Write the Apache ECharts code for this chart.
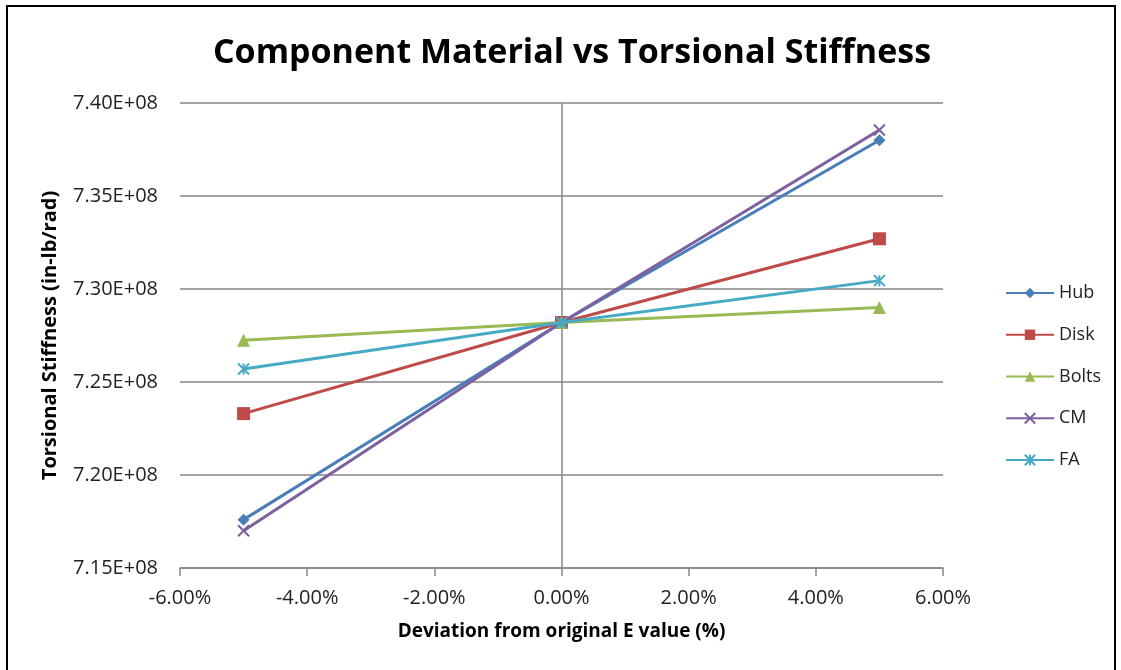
<!DOCTYPE html>
<html>
<head>
<meta charset="utf-8">
<script src="https://cdn.jsdelivr.net/npm/echarts@6/dist/echarts.min.js"></script>
<style>
html,body{margin:0;padding:0;background:#fff;}
#chart{width:1121px;height:670px;}
</style>
</head>
<body>
<div id="chart"></div>
<script>
// Data
var deviations = [-0.05, 0, 0.05];
var seriesNames = ['Hub', 'Disk', 'Bolts', 'CM', 'FA'];
var hub   = [7.176e8, 7.282e8, 7.380e8];
var disk  = [7.233e8, 7.282e8, 7.327e8];
var bolts = [7.2725e8, 7.282e8, 7.290e8];
var cm    = [7.170e8, 7.282e8, 7.3855e8];
var fa    = [7.257e8, 7.282e8, 7.3045e8];
var yTicks = [7.15e8, 7.20e8, 7.25e8, 7.30e8, 7.35e8, 7.40e8];
var xTicks = [-0.06, -0.04, -0.02, 0, 0.02, 0.04, 0.06];

var colors = ['#4A7EBB', '#BE4B48', '#98B954', '#7D60A0', '#46AAC5'];
var symbols = [
  'diamond',
  'rect',
  'triangle',
  'path://M0,0L10,10M10,0L0,10',
  'path://M5,0L5,10M0,0L10,10M10,0L0,10'
];
var symbolSizes = [12, 13, 13, 11, 11];
var values = [hub, disk, bolts, cm, fa];

function pair(vals) {
  return deviations.map(function (d, i) { return [d, vals[i]]; });
}

var series = seriesNames.map(function (name, i) {
  var stroke = i >= 3;
  var s = {
    name: name,
    type: 'line',
    data: pair(values[i]),
    symbol: symbols[i],
    symbolSize: symbolSizes[i],
    showAllSymbol: true,
    z: 5 + i,
    lineStyle: { color: colors[i], width: 3 },
    itemStyle: stroke ? { color: colors[i], borderColor: colors[i], borderWidth: 2 } : { color: colors[i], borderWidth: 0 },
    emphasis: { disabled: true },
    animation: false
  };
  if (i === 0) {
    s.markLine = {
      silent: true,
      symbol: 'none',
      label: { show: false },
      lineStyle: { color: '#868686', width: 1.5, type: 'solid' },
      data: [{ xAxis: 0 }],
      z: 1
    };
  }
  return s;
});

var chart = echarts.init(document.getElementById('chart'));
chart.setOption({
  backgroundColor: '#ffffff',
  animation: false,
  color: colors,
  title: {
    text: 'Component Material vs Torsional Stiffness',
    left: 567,
    textAlign: 'center',
    top: 31,
    textStyle: { fontFamily: 'Open Sans', fontWeight: 'bold', fontSize: 34, color: '#000' }
  },
  graphic: [{
    type: 'polyline',
    shape: { points: [[7, 700], [7, 6], [1115, 6], [1115, 700]] },
    style: { stroke: '#000', lineWidth: 2, fill: null },
    silent: true
  }],
  legend: {
    orient: 'vertical',
    left: 1005,
    top: 283,
    padding: 0,
    itemWidth: 48,
    itemHeight: 13,
    itemGap: 21.75,
    data: seriesNames,
    textStyle: { fontFamily: 'Open Sans', fontSize: 18, lineHeight: 20, color: '#222' }
  },
  grid: { left: 180, right: 178, top: 103, bottom: 102, containLabel: false },
  xAxis: {
    type: 'value',
    min: -0.06,
    max: 0.06,
    interval: 0.02,
    name: 'Deviation from original E value (%)',
    nameLocation: 'middle',
    nameGap: 54,
    nameTextStyle: { fontFamily: 'Open Sans', fontWeight: 'bold', fontSize: 19, color: '#000' },
    axisLine: { show: true, onZero: false, lineStyle: { color: '#868686', width: 1.5 } },
    axisTick: { show: true, inside: false, length: 8, lineStyle: { color: '#868686', width: 1.5 } },
    axisLabel: {
      margin: 20,
      fontFamily: 'Open Sans', fontSize: 20, color: '#222',
      formatter: function (v) { return (v * 100).toFixed(2) + '%'; }
    },
    splitLine: { show: false }
  },
  yAxis: {
    type: 'value',
    min: 7.15e8,
    max: 7.40e8,
    interval: 0.05e8,
    name: 'Torsional Stiffness (in-lb/rad)',
    nameLocation: 'middle',
    nameGap: 120,
    nameRotate: 90,
    nameTextStyle: { fontFamily: 'Open Sans', fontWeight: 'bold', fontSize: 20, color: '#000' },
    axisLine: { show: false },
    axisTick: { show: false },
    axisLabel: {
      margin: 22,
      fontFamily: 'Open Sans', fontSize: 20, color: '#222',
      formatter: function (v) {
        var m = v / 1e8;
        return m.toFixed(2) + 'E+08';
      }
    },
    splitLine: { show: true, lineStyle: { color: '#868686', width: 1.5 } }
  },
  series: series
});
</script>
</body>
</html>
